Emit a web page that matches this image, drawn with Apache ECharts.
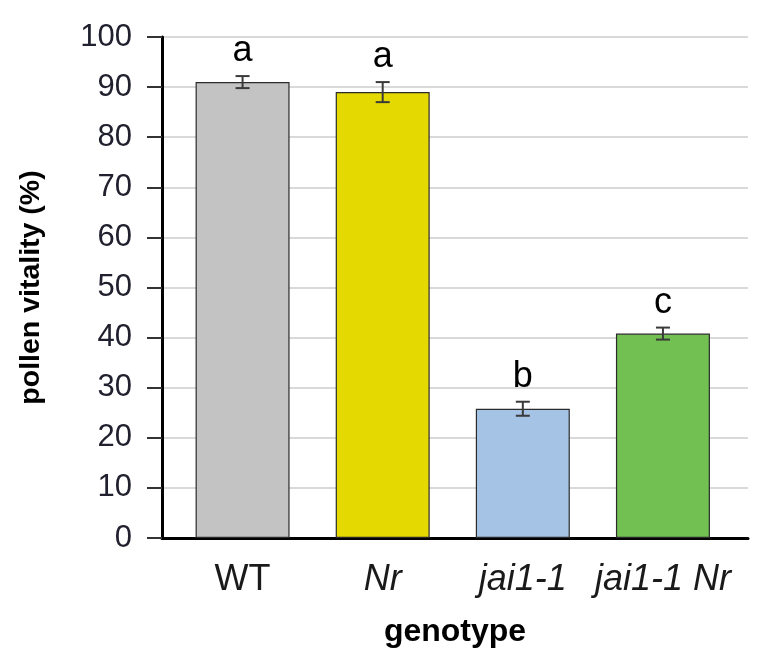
<!DOCTYPE html>
<html>
<head>
<meta charset="utf-8">
<script src="https://cdn.jsdelivr.net/npm/echarts@6/dist/echarts.min.js"></script>
<style>html,body{margin:0;padding:0;background:#fff}#c{width:769px;height:672px}</style>
</head>
<body>
<div id="c"></div>
<script>
const categories = ['WT', 'Nr', 'jai1-1', 'jai1-1 Nr'];
const italicNames = [false, true, true, true];
const values = [91.0, 89.0, 25.8, 40.8];
const errors = [1.2, 2.0, 1.4, 1.2];
const letters = ['a', 'a', 'b', 'c'];
const colors = ['#c3c3c3', '#e4d900', '#a5c3e5', '#72bf52'];
const yTicks = [0, 10, 20, 30, 40, 50, 60, 70, 80, 90, 100];

const font = 'Liberation Sans, Arial, sans-serif';
const chart = echarts.init(document.getElementById('c'), null, {renderer: 'canvas'});

const barData = values.map((v, i) => ({value: [i, v], itemStyle: {color: colors[i]}}));
const errData = values.map((v, i) => [i, v, errors[i], i]);

chart.setOption({
  animation: false,
  backgroundColor: '#fff',
  grid: {left: 162, right: 21, top: 37, bottom: 134, containLabel: false},
  xAxis: {
    type: 'value',
    min: -0.575,
    max: 3.607,
    splitLine: {show: false},
    axisLine: {show: true, onZero: false, lineStyle: {color: '#000', width: 3}},
    axisTick: {show: false},
    axisLabel: {
      customValues: [0, 1, 2, 3],
      margin: 24,
      formatter: function (v) {
        const i = Math.round(v);
        return italicNames[i] ? '{i|' + categories[i] + '}' : '{n|' + categories[i] + '}';
      },
      rich: {
        n: {fontFamily: font, fontSize: 36, color: '#1a1a1a'},
        i: {fontFamily: font, fontSize: 36, fontStyle: 'italic', color: '#1a1a1a'}
      }
    },
    name: 'genotype',
    nameLocation: 'middle',
    nameGap: 78,
    nameTextStyle: {fontFamily: font, fontSize: 32, fontWeight: 'bold', color: '#000'}
  },
  yAxis: {
    type: 'value',
    min: 0,
    max: 100,
    interval: 10,
    axisLine: {show: true, onZero: false, lineStyle: {color: '#000', width: 3}},
    axisTick: {show: true, length: 15, lineStyle: {color: '#333', width: 2}},
    axisLabel: {
      margin: 30,
      fontFamily: font,
      fontSize: 31,
      color: '#20202e',
      formatter: function (v) { return yTicks.indexOf(v) >= 0 ? String(v) : ''; }
    },
    splitLine: {show: true, lineStyle: {color: '#d9d9d9', width: 2}},
    name: 'pollen vitality (%)',
    nameLocation: 'middle',
    nameRotate: 90,
    nameGap: 116,
    nameTextStyle: {fontFamily: font, fontSize: 28.5, fontWeight: 'bold', color: '#000'}
  },
  series: [
    {
      type: 'bar',
      data: barData,
      barWidth: 94,
      itemStyle: {borderColor: '#2b2b2b', borderWidth: 1.2},
      z: 2
    },
    {
      type: 'custom',
      data: errData,
      z: 5,
      renderItem: function (params, api) {
        const x = api.value(0);
        const v = api.value(1);
        const e = api.value(2);
        const idx = api.value(3);
        const top = api.coord([x, v + e]);
        const bot = api.coord([x, v - e]);
        const hw = 7;
        const st = {stroke: '#3a3a3a', lineWidth: 2};
        return {
          type: 'group',
          children: [
            {type: 'line', shape: {x1: top[0], y1: top[1], x2: bot[0], y2: bot[1]}, style: st},
            {type: 'line', shape: {x1: top[0] - hw, y1: top[1], x2: top[0] + hw, y2: top[1]}, style: st},
            {type: 'line', shape: {x1: bot[0] - hw, y1: bot[1], x2: bot[0] + hw, y2: bot[1]}, style: st},
            {type: 'text', x: top[0], y: top[1] - 7,
              style: {text: letters[idx], fill: '#000', font: '36px ' + font, align: 'center', verticalAlign: 'bottom'}}
          ]
        };
      }
    }
  ]
});
</script>
</body>
</html>
